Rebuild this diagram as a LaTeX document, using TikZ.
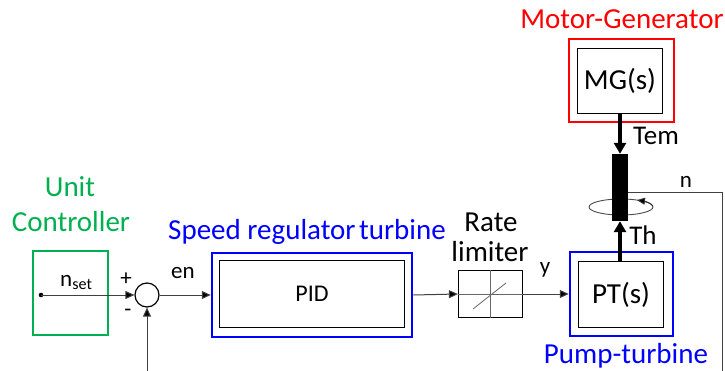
\documentclass[tikz,border=0pt]{standalone}
\usepackage{fontspec}
\setmainfont{Carlito}
\usetikzlibrary{arrows.meta}
\definecolor{ucgreen}{RGB}{0,176,80}
\definecolor{pblue}{RGB}{0,0,255}
\definecolor{mred}{RGB}{255,0,0}
\begin{document}
\begin{tikzpicture}[x=1pt,y=-1pt,
  lab/.style={inner sep=0pt,font=\fontsize{29}{31}\selectfont},
  slab/.style={inner sep=0pt,font=\fontsize{23}{25}\selectfont},
  outerbox/.style={draw,line width=2.5pt,inner sep=0pt},
  innerbox/.style={draw,line width=1.4pt,inner sep=0pt},
  sig/.style={draw=black!75,line width=1pt},
  sigarrow/.style={sig,-{Triangle[length=9pt,width=8pt,fill=black]}},
  thick arrow/.style={draw=black,line width=4pt,-{Triangle[length=11pt,width=12pt]}}
]
\useasboundingbox (0,0) rectangle (725,371);

% Unit controller
\node[lab,text=ucgreen] (uct1) at (70,187) {Unit};
\node[lab,text=ucgreen] (uct2) at (71,222) {Controller};
\node[outerbox,draw=ucgreen,minimum width=75pt,minimum height=84pt] (uc) at (70.5,293) {};
\coordinate (dot) at (41,295);
\fill (dot) circle (2.3pt);
\node[slab,anchor=base west] (nset) at (60,286) {n\textsubscript{set}};

% summing junction
\node[draw,circle,line width=1.2pt,minimum size=24pt,inner sep=0pt] (sum) at (147,295) {};
\node[slab] (plus) at (126,279) {+};
\node[slab] (minus) at (128,313) {-};
\draw[sigarrow] (dot) -- (sum.west);
\coordinate (fb) at (147,371);
\draw[sigarrow] (fb) -- (sum.south);

% PID
\node[lab,text=pblue] (srt) at (307,232) {Speed regulator\hspace{-3pt} turbine};
\node[outerbox,draw=pblue,minimum width=200pt,minimum height=84pt] (pido) at (312,295) {};
\node[innerbox,minimum width=185pt,minimum height=67pt,font=\fontsize{24}{26}\selectfont] (pid) at (312,294) {PID};
\node[slab] (en) at (183,273) {en};
\draw[sigarrow] (sum.east) -- (pido.west);

% Rate limiter
\node[lab] (rate) at (491,222) {Rate};
\node[lab] (limiter) at (490,252) {limiter};
\node[draw,line width=1.2pt,minimum width=64pt,minimum height=47pt,inner sep=0pt] (rl) at (490.5,294) {};
\draw[black!60,line width=0.8pt] (rl.north) -- (rl.south);
\draw[black!60,line width=0.8pt] (rl.west) -- (rl.east);
\draw[black!60,line width=0.8pt] (473,309) -- (506,283);
\draw[sigarrow] (pido.east) -- (rl.west);
\node[slab] (ylab) at (545,270) {y};

% Pump-turbine
\node[outerbox,draw=pblue,minimum width=103pt,minimum height=84pt] (pto) at (621.5,294) {};
\node[innerbox,minimum width=85pt,minimum height=66pt,lab] (pt) at (621,294.5) {PT(s)};
\node[lab,text=pblue] (ptl) at (626,356) {Pump-turbine};
\draw[sigarrow] (rl.east) -- (pto.west);

% Motor-generator
\node[lab,text=mred] (mgl) at (622,19) {Motor-Generator};
\node[outerbox,draw=mred,minimum width=105pt,minimum height=83pt] (mgo) at (621.5,80.5) {};
\node[innerbox,minimum width=85pt,minimum height=65pt,lab] (mg) at (620,81) {MG(s)};

% shaft and rotation
\draw[black!70,line width=0.9pt] (621,207) ellipse (32pt and 8pt);
\node[fill=black,minimum width=16pt,minimum height=67pt,inner sep=0pt] (shaft) at (620,187.5) {};
\draw[black!80,line width=0.9pt,-{Triangle[length=8pt,width=7pt,fill=black]}]
  (621,207) ++(5:32pt and 8pt) arc[start angle=5,end angle=60,x radius=32pt,y radius=8pt];
\draw[thick arrow] (mg.south -| shaft.north) -- (shaft.north);
\draw[thick arrow] (pt.north -| shaft.south) -- (shaft.south);
\node[lab,font=\fontsize{27}{29}\selectfont] (tem) at (656,136) {Tem};
\node[lab,font=\fontsize{27}{29}\selectfont] (th) at (643,235) {Th};

% speed feedback
\coordinate (nr) at (722,193);
\coordinate (nb) at (722,371);
\draw[sig] (shaft.east |- nr) -- (nr) -- (nb);
\node[slab] (nl) at (686,182) {n};
\end{tikzpicture}
\end{document}
